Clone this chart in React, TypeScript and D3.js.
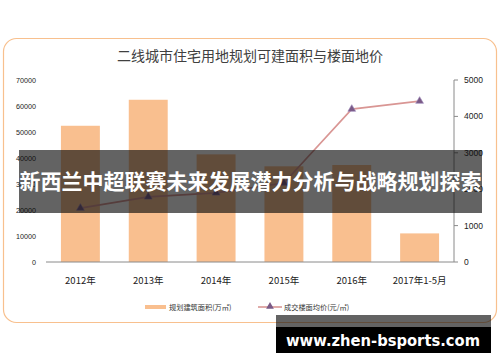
import React from "react";
import * as d3 from "d3";

const categories = ["2012年", "2013年", "2014年", "2015年", "2016年", "2017年1-5月"];
const areaValues = [52400, 62400, 41400, 36800, 37300, 11000];
const priceValues = [1480, 1790, 1900, 2170, 4200, 4420];
const leftTicks = [0, 10000, 20000, 30000, 40000, 50000, 60000, 70000];
const rightTicks = [0, 1000, 2000, 3000, 4000, 5000];
const title = "二线城市住宅用地规划可建面积与楼面地价";
const legendBar = "规划建筑面积(万㎡)";
const legendLine = "成交楼面均价(元/㎡)";
const bannerText = "新西兰中超联赛未来发展潜力分析与战略规划探索";
const watermark = "www.zhen-bsports.com";

const CJK = "'Noto Sans CJK SC', 'Noto Sans', sans-serif";

export default function App() {
  const x = d3.scaleBand<string>().domain(categories).range([46, 454]).paddingInner(0.426).paddingOuter(0.22);
  const yL = d3.scaleLinear().domain([0, 70000]).range([262, 80]);
  const yR = d3.scaleLinear().domain([0, 5000]).range([262, 80]);
  const cx = (c: string) => (x(c) as number) + x.bandwidth() / 2;
  const line = d3
    .line<number>()
    .x((_, i) => cx(categories[i]))
    .y((d) => yR(d));
  const tri = d3.symbol().type(d3.symbolTriangle).size(26)();

  return (
    <svg width={500} height={362} style={{ position: "absolute", left: 0, top: 0, background: "#fff" }}>
      <rect x={3.5} y={38.5} width={493} height={284} rx={13} ry={13} fill="#fff" stroke="#f8c08e" strokeWidth={1.2} />
      <text x={250} y={61} textAnchor="middle" fontFamily={CJK} fontSize={14} fill="#404040">
        {title}
      </text>
      {/* left axis labels */}
      {leftTicks.map((t) => (
        <text key={"l" + t} x={36} y={yL(t) + 2.5} textAnchor="end" fontFamily="'Liberation Sans', Arial, sans-serif" fontSize={7.2} fill="#222">
          {t}
        </text>
      ))}
      {/* right axis */}
      <line x1={454} x2={454} y1={80} y2={262} stroke="#8a8a8a" strokeWidth={1} />
      {rightTicks.map((t) => (
        <g key={"r" + t}>
          <line x1={454} x2={458} y1={yR(t)} y2={yR(t)} stroke="#8a8a8a" />
          <text x={464} y={yR(t) + 3} fontFamily="'Liberation Sans', Arial, sans-serif" fontSize={8.5} fill="#222">
            {t}
          </text>
        </g>
      ))}
      {/* bars */}
      {areaValues.map((v, i) => (
        <rect key={"b" + i} x={x(categories[i])} y={yL(v)} width={x.bandwidth()} height={262 - yL(v)} fill="#f9bf8f" />
      ))}
      <line x1={46} x2={454} y1={262} y2={262} stroke="#8a8a8a" strokeWidth={1} />
      {/* category labels */}
      {categories.map((c) => (
        <text key={"c" + c} x={cx(c)} y={284} textAnchor="middle" fontFamily={CJK} fontSize={9.5} fill="#222">
          {c}
        </text>
      ))}
      {/* line */}
      <path d={line(priceValues) || ""} fill="none" stroke="#d99694" strokeWidth={1.6} />
      {priceValues.map((v, i) => (
        <path key={"p" + i} d={tri || ""} transform={`translate(${cx(categories[i])},${yR(v)})`} fill="#7a5a86" stroke="#9a86b8" strokeWidth={0.6} />
      ))}
      {/* legend */}
      <rect x={145} y={305} width={21} height={4} fill="#f9bf8f" />
      <text x={169} y={309.5} fontFamily={CJK} fontSize={7.2} fill="#333">
        {legendBar}
      </text>
      <line x1={258} x2={282} y1={307} y2={307} stroke="#d99694" strokeWidth={1.6} />
      <path d={tri || ""} transform="translate(270,306.5)" fill="#7a5a86" />
      <text x={284} y={309.5} fontFamily={CJK} fontSize={7.2} fill="#333">
        {legendLine}
      </text>
      {/* banner overlay */}
      <rect x={19} y={150} width={463} height={63} fill="rgba(10,10,10,0.635)" />
      <text x={250.5} y={189} textAnchor="middle" fontFamily={CJK} fontWeight="bold" fontSize={21} fill="#fff" textLength={462} lengthAdjust="spacingAndGlyphs">
        {bannerText}
      </text>
      {/* watermark */}
      <rect x={276} y={315} width={215} height={12} fill="rgba(10,10,10,0.635)" />
      <rect x={276} y={327} width={215} height={26} fill="#000" />
      <text x={383} y={346} textAnchor="middle" fontFamily="'DejaVu Sans', sans-serif" fontWeight="bold" fontSize={15} fill="#fff" textLength={194} lengthAdjust="spacingAndGlyphs">
        {watermark}
      </text>
    </svg>
  );
}
